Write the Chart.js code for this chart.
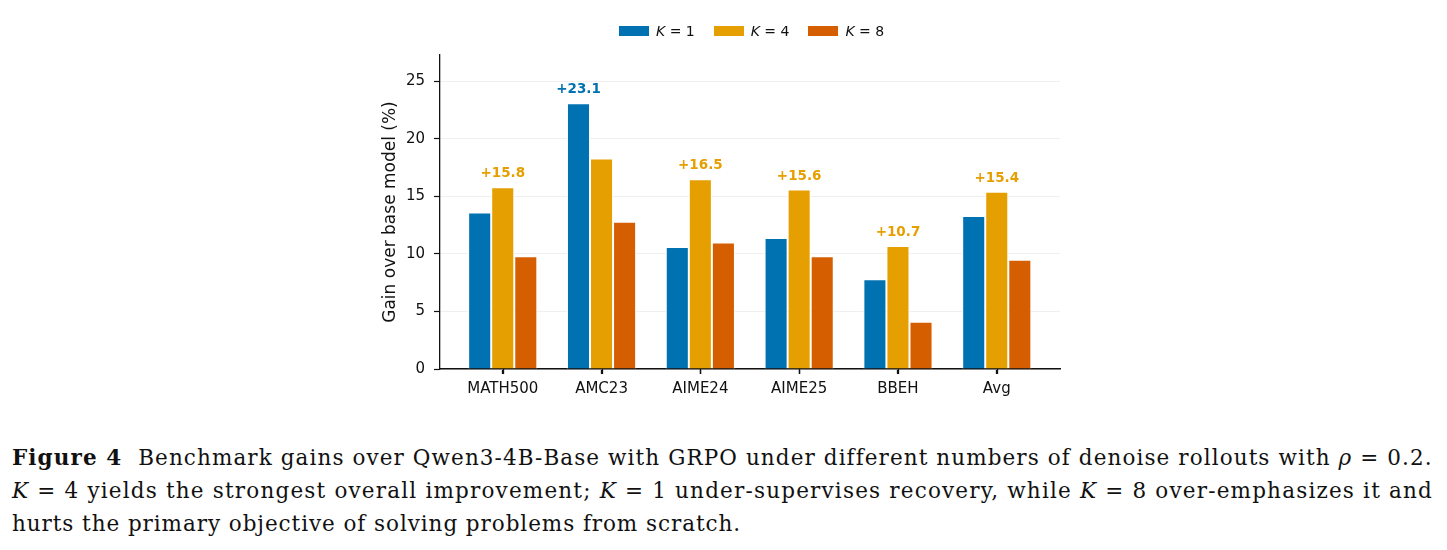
<!DOCTYPE html>
<html lang="en">
<head>
  <meta charset="UTF-8">
  <script src="https://cdn.jsdelivr.net/npm/chart.js"></script>
  <title>Figure 4</title>
  <style>
    body { margin: 0; background: #fff; width: 1447px; height: 550px; position: relative; overflow: hidden; }
    #wrap { position: absolute; left: 0; top: 0; width: 1447px; height: 410px; }
    .legend { position: absolute; top: 23px; left: 619px; display: flex; gap: 19px; font-family: 'DejaVu Sans'; font-size: 14px; color: #111; }
    .legend .item { display: flex; align-items: center; }
    .legend .box { width: 30px; height: 10px; margin-right: 7px; }
    .caption { position: absolute; left: 12px; top: 441px; font-family: 'DejaVu Serif'; font-size: 21.5px; line-height: 33px; color: #111; }
    .caption div { white-space: nowrap; }
    .caption span { display: inline-block; }
  </style>
</head>
<body>
  <div id="wrap"><canvas id="grafico" width="1447" height="410"></canvas></div>
  <div class="legend" id="legenda"></div>
  <div class="caption">
    <div data-w="1420"><span><b>Figure 4</b>&nbsp; Benchmark gains over Qwen3-4B-Base with GRPO under different numbers of denoise rollouts with <i>ρ</i> = 0.2.</span></div>
    <div data-w="1421"><span><i>K</i> = 4 yields the strongest overall improvement; <i>K</i> = 1 under-supervises recovery, while <i>K</i> = 8 over-emphasizes it and</span></div>
    <div data-w="729"><span>hurts the primary objective of solving problems from scratch.</span></div>
  </div>

<script>
// categorias e valores
const categorias = ['MATH500', 'AMC23', 'AIME24', 'AIME25', 'BBEH', 'Avg'];
const k1 = [13.6, 23.1, 10.6, 11.4, 7.8, 13.3];
const k4 = [15.8, 18.3, 16.5, 15.6, 10.7, 15.4];
const k8 = [9.8, 12.8, 11.0, 9.8, 4.1, 9.5];
const nomes = ['1', '4', '8'];
const cores = ['#0072B2', '#E69F00', '#D55E00'];
const yTicks = [0, 5, 10, 15, 20, 25];

const series = [k1, k4, k8];

// ajusta o espaçamento das linhas da legenda da figura
document.querySelectorAll('.caption div').forEach(div => {
  const span = div.querySelector('span');
  const alvo = Number(div.dataset.w);
  const w = span.getBoundingClientRect().width;
  const n = span.textContent.length;
  span.style.letterSpacing = ((alvo - w) / n) + 'px';
});

// legenda em HTML (K em itálico)
const legenda = document.getElementById('legenda');
series.forEach((s, i) => {
  legenda.innerHTML += `<div class="item"><span class="box" style="background:${cores[i]}"></span><span><i>K</i> = ${nomes[i]}</span></div>`;
});

// rótulo acima da maior barra de cada grupo + marcas do eixo x
const rotulos = {
  id: 'rotulos',
  afterDraw(chart) {
    const ctx = chart.ctx;
    ctx.save();
    const sx = chart.scales.x;
    ctx.strokeStyle = '#111';
    ctx.lineWidth = 1.3;
    sx.ticks.forEach((t, i) => {
      const px = Math.round(sx.getPixelForTick(i)) + 0.5;
      ctx.beginPath();
      ctx.moveTo(px, sx.top);
      ctx.lineTo(px, sx.top + 5);
      ctx.stroke();
    });
    ctx.font = 'bold 13.5px "DejaVu Sans"';
    ctx.textAlign = 'center';
    ctx.textBaseline = 'alphabetic';
    categorias.forEach((c, i) => {
      let best = 0;
      series.forEach((s, d) => { if (s[i] > series[best][i]) best = d; });
      const bar = chart.getDatasetMeta(best).data[i];
      ctx.fillStyle = cores[best];
      ctx.fillText('+' + series[best][i].toFixed(1), bar.x, bar.y - 10);
    });
    ctx.restore();
  }
};

const fonte = { family: 'DejaVu Sans', size: 15 };

new Chart(document.getElementById('grafico'), {
  type: 'bar',
  data: {
    datasets: series.map((s, d) => ({
      label: 'K = ' + nomes[d],
      data: s.map((v, i) => ({ x: i, y: v })),
      backgroundColor: cores[d],
      borderColor: '#ffffff',
      borderWidth: 1,
      categoryPercentage: 0.7,
      barPercentage: 1.0
    }))
  },
  options: {
    responsive: false,
    devicePixelRatio: 1,
    animation: false,
    layout: { padding: { top: 55, left: 380, right: 387, bottom: 0 } },
    plugins: { legend: { display: false }, tooltip: { enabled: false } },
    scales: {
      x: {
        type: 'linear',
        min: -0.635,
        max: 5.64,
        offset: false,
        afterFit: (s) => { s.height = 41; },
        afterBuildTicks: (s) => { s.ticks = categorias.map((c, i) => ({ value: i })); },
        ticks: {
          font: fonte, color: '#111', padding: 6,
          callback: (v) => categorias[v]
        },
        grid: { offset: false, drawOnChartArea: false, tickLength: 5, tickColor: '#111', tickWidth: 1.3 },
        border: { color: '#111', width: 1.5 }
      },
      y: {
        min: 0,
        max: 27.3,
        afterFit: (s) => { s.width = 60; },
        afterBuildTicks: (s) => { s.ticks = yTicks.map(v => ({ value: v })); },
        ticks: { font: fonte, color: '#111', padding: 9 },
        grid: { color: '#efefef', lineWidth: 1, tickLength: 6, tickColor: '#111', tickWidth: 1.2 },
        border: { color: '#111', width: 1.3 },
        title: {
          display: true,
          text: 'Gain over base model (%)',
          font: { family: 'DejaVu Sans', size: 17 },
          color: '#111',
          padding: { top: 0, bottom: 0 }
        }
      }
    }
  },
  plugins: [rotulos]
});
</script>
</body>
</html>
